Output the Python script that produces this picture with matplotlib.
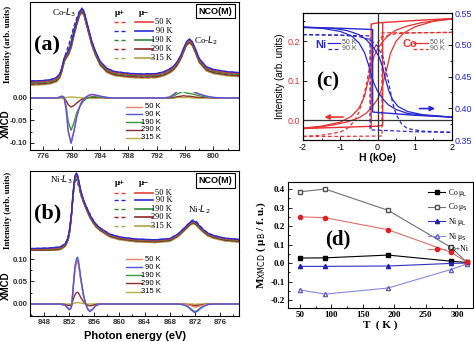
import numpy as np
import matplotlib
matplotlib.use('Agg')
import matplotlib.pyplot as plt
from matplotlib.ticker import MultipleLocator, FormatStrFormatter

plt.rcParams['axes.unicode_minus'] = False
plt.rcParams['font.family'] = 'DejaVu Sans'
SANS = 'Liberation Sans'
SERIF = 'Liberation Serif'

# ---------------- data ----------------
temps = ['50 K', '90 K', '190 K', '290 K', '315 K']
spec_colors = ['#e8403a', '#2a2ad0', '#2e8b3a', '#8b2a2a', '#b0a050']
xmcd_colors = ['#f08070', '#5555e0', '#3a9a3a', '#8b3030', '#b8b040']

# Co L-edge
E_co = [774.2, 776.0, 777.0, 777.8, 778.3, 778.6, 778.9, 779.2, 779.5, 779.9,
        780.3, 780.7, 781.1, 781.4, 781.7, 782.0, 782.4, 782.8, 783.3, 784.0,
        785.0, 786.0, 788.0, 790.0, 792.0, 793.0, 793.8, 794.4, 794.9, 795.4,
        795.8, 796.2, 796.6, 797.0, 797.5, 798.0, 799.0, 800.0, 802.0, 803.7]
co_int_90 = [0.122, 0.127, 0.137, 0.158, 0.200, 0.270, 0.370, 0.420, 0.450, 0.530,
             0.670, 0.790, 0.890, 0.925, 0.900, 0.810, 0.690, 0.570, 0.460, 0.340,
             0.260, 0.228, 0.207, 0.200, 0.205, 0.225, 0.255, 0.290, 0.340, 0.410,
             0.490, 0.560, 0.590, 0.560, 0.470, 0.370, 0.280, 0.250, 0.225, 0.215]
co_offsets = [-0.010, 0.0, -0.020, -0.035, -0.045]
co_xmcd_50 = [0, 0, 0, 0, 0.002, 0.004, 0.002, -0.024, -0.072, -0.098,
              -0.073, -0.040, -0.019, -0.008, -0.003, 0.002, 0.005, 0.007, 0.006, 0.004,
              0.001, 0, 0, 0, 0, 0, 0.002, 0.008, 0.014, 0.020,
              0.022, 0.017, 0.015, 0.015, 0.011, 0.008, 0.004, 0.001, 0, 0]
co_xmcd_90 = [0, 0, 0, 0, 0.002, 0.004, 0.002, -0.025, -0.075, -0.101,
              -0.075, -0.042, -0.020, -0.009, -0.003, 0.002, 0.006, 0.008, 0.007, 0.004,
              0.001, 0, 0, 0, 0, 0, 0.002, 0.008, 0.015, 0.021,
              0.023, 0.018, 0.016, 0.016, 0.012, 0.009, 0.004, 0.001, 0, 0]
co_xmcd_190 = [0, 0, 0, 0, 0.001, 0.003, 0.001, -0.018, -0.052, -0.072,
               -0.055, -0.032, -0.020, -0.012, -0.006, -0.002, 0.001, 0.003, 0.003, 0.002,
               0.001, 0, 0, 0, 0, 0, 0.001, 0.005, 0.009, 0.013,
               0.014, 0.011, 0.010, 0.009, 0.007, 0.005, 0.002, 0.001, 0, 0]
co_xmcd_290 = [0, 0, 0, 0, 0.001, 0.001, 0, -0.006, -0.015, -0.020,
               -0.017, -0.011, -0.006, -0.003, -0.001, 0, 0.001, 0.001, 0.001, 0.001,
               0, 0, 0, 0, 0, 0, 0, 0.001, 0.003, 0.004,
               0.005, 0.004, 0.004, 0.003, 0.002, 0.001, 0.001, 0, 0, 0]
co_xmcd_315 = [0, 0, 0, 0, 0, 0, 0, 0.001, 0.002, 0.002,
               0.002, 0.001, 0.001, 0, 0, 0, 0, 0, 0, 0,
               0, 0, 0, 0, 0, 0, 0, 0, 0.001, 0.001,
               0.001, 0.001, 0.001, 0, 0, 0, 0, 0, 0, 0]
co_xmcd = [co_xmcd_50, co_xmcd_90, co_xmcd_190, co_xmcd_290, co_xmcd_315]

# Ni L-edge
E_ni = [845.75, 848.91, 850.59, 851.39, 851.83, 852.06, 852.28, 852.45, 852.61, 852.79,
        852.95, 853.17, 853.35, 853.52, 853.85, 854.30, 854.65, 854.98, 855.32, 855.76,
        856.21, 856.89, 858.47, 860.04, 862.52, 865.67, 868.04, 869.27, 869.95, 870.62,
        871.19, 871.64, 871.97, 872.42, 872.88, 873.44, 874.12, 875.12, 876.81, 878.96, 881.0]
ni_int_90 = [0.030, 0.037, 0.050, 0.090, 0.160, 0.250, 0.390, 0.520, 0.700, 0.840,
             0.940, 0.975, 0.950, 0.890, 0.760, 0.640, 0.570, 0.510, 0.450, 0.390,
             0.340, 0.290, 0.210, 0.175, 0.150, 0.140, 0.156, 0.210, 0.260, 0.310,
             0.355, 0.375, 0.370, 0.340, 0.300, 0.260, 0.220, 0.190, 0.160, 0.145, 0.140]
ni_offsets = [-0.008, 0.0, -0.015, -0.025, -0.035]
ni_xmcd_50 = [0, 0, 0, -0.003, -0.009, -0.012, -0.009, -0.002, 0.027, 0.054,
              0.077, 0.090, 0.094, 0.086, 0.054, 0.018, 0.000, -0.011, -0.015, -0.011,
              -0.004, 0, 0, 0, 0, 0, 0, 0, 0, -0.001,
              -0.003, -0.005, -0.007, -0.006, -0.004, -0.002, 0, 0, 0, 0, 0]
ni_xmcd_90 = [0, 0, 0, -0.003, -0.010, -0.013, -0.010, -0.002, 0.030, 0.060,
              0.085, 0.100, 0.104, 0.095, 0.060, 0.020, 0.000, -0.012, -0.017, -0.012,
              -0.004, 0, 0, 0, 0, 0, 0, 0, -0.001, -0.004,
              -0.010, -0.016, -0.019, -0.016, -0.010, -0.005, -0.001, 0, 0, 0, 0]
ni_xmcd_190 = [0, 0, 0, -0.003, -0.009, -0.012, -0.009, -0.002, 0.028, 0.056,
               0.079, 0.093, 0.097, 0.088, 0.056, 0.019, 0.000, -0.011, -0.016, -0.011,
               -0.004, 0, 0, 0, 0, 0, 0, 0, -0.001, -0.004,
               -0.009, -0.014, -0.017, -0.014, -0.009, -0.004, -0.001, 0, 0, 0, 0]
ni_xmcd_290 = [0, 0, 0, -0.001, -0.003, -0.003, -0.003, 0, 0.008, 0.015,
               0.021, 0.025, 0.026, 0.024, 0.015, 0.005, 0, -0.003, -0.004, -0.003,
               -0.001, 0, 0, 0, 0, 0, 0, 0, 0, -0.001,
               -0.002, -0.003, -0.004, -0.003, -0.002, -0.001, 0, 0, 0, 0, 0]
ni_xmcd_315 = [0, 0, 0, 0, 0, 0, 0, 0, 0.001, 0.002,
               0.002, 0.003, 0.003, 0.003, 0.002, 0.001, 0, 0, 0, 0,
               0, 0, 0, 0, 0, 0, 0, 0, 0, 0,
               0, 0, -0.001, 0, 0, 0, 0, 0, 0, 0, 0]
ni_xmcd = [ni_xmcd_50, ni_xmcd_90, ni_xmcd_190, ni_xmcd_290, ni_xmcd_315]

# Hysteresis loops (c)
co50_sq_a_H = [2.0, 1.0, 0.0, -0.17, -0.17]
co50_sq_a_M = [0.257, 0.252, 0.246, 0.243, -0.020]
co50_sq_b_H = [-2.0, -1.0, 0.0, 0.14, 0.14]
co50_sq_b_M = [-0.021, -0.018, -0.015, -0.013, 0.246]
co50_s1_H = [-2, -1.5, -1.0, -0.7, -0.5, -0.35, -0.25, -0.18, -0.1, 0.0, 0.15, 0.3, 0.5, 0.8, 1.2, 1.6, 2.0]
co50_s1_M = [-0.020, -0.015, -0.005, 0.010, 0.030, 0.060, 0.100, 0.130, 0.160, 0.180, 0.200, 0.215, 0.228, 0.238, 0.247, 0.252, 0.256]
co50_s2_H = [-2, -1.6, -1.2, -0.8, -0.5, -0.3, -0.15, 0.0, 0.1, 0.18, 0.25, 0.35, 0.5, 0.7, 1.0, 1.5, 2.0]
co50_s2_M = [-0.021, -0.018, -0.012, -0.004, 0.006, 0.018, 0.033, 0.053, 0.076, 0.105, 0.130, 0.170, 0.200, 0.220, 0.236, 0.250, 0.256]
co90_sq_H = [-2.0, -1.0, 0.0, 0.12, 0.12, 1.0, 2.0]
co90_sq_M = [-0.041, -0.041, -0.040, -0.040, 0.221, 0.221, 0.222]
co90_s_H = [-2, -1.5, -1.0, -0.8, -0.6, -0.5, -0.4, -0.3, -0.2, -0.1, 0.1, 0.5, 1.0, 2.0]
co90_s_M = [-0.041, -0.038, -0.030, -0.020, 0.000, 0.020, 0.050, 0.090, 0.140, 0.180, 0.210, 0.219, 0.221, 0.222]

ni50_sq_H = [-2.0, -1.0, -0.13, -0.13, 1.0, 2.0]
ni50_sq_M = [0.527, 0.526, 0.524, 0.394, 0.389, 0.386]
ni50_s1_H = [-2, -1.5, -1.0, -0.7, -0.5, -0.35, -0.25, -0.18, -0.1, 0.0, 0.15, 0.3, 0.5, 0.8, 1.2, 2.0]
ni50_s1_M = [0.528, 0.526, 0.521, 0.514, 0.503, 0.488, 0.470, 0.455, 0.440, 0.427, 0.414, 0.405, 0.398, 0.392, 0.389, 0.386]
ni50_s2_H = [-2, -1.2, -0.8, -0.5, -0.3, -0.1, 0.05, 0.15, 0.22, 0.3, 0.4, 0.55, 0.8, 1.2, 2.0]
ni50_s2_M = [0.528, 0.526, 0.522, 0.516, 0.508, 0.495, 0.480, 0.462, 0.445, 0.428, 0.414, 0.403, 0.395, 0.390, 0.386]
ni90_sq_H = [-2.0, -1.0, -0.2, -0.2, 1.0, 2.0]
ni90_sq_M = [0.516, 0.515, 0.514, 0.366, 0.363, 0.362]
ni90_s_H = [-2, -1, -0.5, -0.2, 0.0, 0.15, 0.3, 0.4, 0.5, 0.65, 0.8, 1.2, 2.0]
ni90_s_M = [0.516, 0.515, 0.513, 0.508, 0.498, 0.480, 0.440, 0.410, 0.390, 0.375, 0.368, 0.364, 0.362]

# (d) moments vs T
T_vals = [50, 90, 190, 290, 315]
co_muL = [0.027, 0.028, 0.043, 0.010, 0.003]
co_muS = [0.385, 0.400, 0.285, 0.085, 0.005]
ni_muL = [-0.018, -0.018, -0.016, -0.002, 0.000]
ni_muS = [-0.145, -0.168, -0.135, -0.035, -0.005]
co_ni = [0.250, 0.245, 0.180, 0.058, 0.005]

# ---------------- figure ----------------
W, H = 474, 342
fig = plt.figure(figsize=(W / 100, H / 100), dpi=100)


def add_ax(x0, y0, x1, y1):
    return fig.add_axes([x0 / W, 1 - y1 / H, (x1 - x0) / W, (y1 - y0) / H])


def style_ticks(ax, size=6.5, family=SANS, weight='bold', color=None, pad=2):
    ax.tick_params(direction='in', which='both', labelsize=size, width=0.6, pad=pad)
    ax.tick_params(which='major', length=3)
    ax.tick_params(which='minor', length=1.6)
    for lab in ax.get_xticklabels() + ax.get_yticklabels():
        lab.set_family(family)
        lab.set_weight(weight)
        if color:
            lab.set_color(color)


def spectra_panel(y_top, y_split, y_bot, E, base, offs, xmcd, xlim, xmcd_ylim,
                  xmcd_ticks, panel_label, l3_text, l3_pos, l2_text, l2_pos,
                  leg_rows, head_y, xleg_rows, box_y):
    axt = add_ax(30, y_top, 239, y_split)
    axb = add_ax(30, y_split, 239, y_bot)
    E = np.array(E)
    base = np.array(base)
    for i in range(5):
        mu_minus = base + offs[i]
        mu_plus = mu_minus - 0.8 * np.array(xmcd[i])
        axt.plot(E, mu_plus, ls=(0, (3, 2)), color=spec_colors[i], lw=0.9)
    for i in [4, 3, 2, 0, 1]:
        axt.plot(E, base + offs[i], color=spec_colors[i], lw=1.0)
    for i in [4, 3, 2, 0, 1]:
        axb.plot(E, xmcd[i], color=xmcd_colors[i], lw=1.0)
    axt.set_xlim(*xlim)
    axb.set_xlim(*xlim)
    axt.set_ylim(0, 1)
    axb.set_ylim(*xmcd_ylim)
    axt.set_xticks([])
    axt.set_yticks([])
    axt.spines['bottom'].set_visible(False)
    axb.spines['top'].set_visible(False)
    for a in (axt, axb):
        for s in a.spines.values():
            s.set_linewidth(0.8)
    axb.xaxis.set_major_locator(MultipleLocator(4))
    axb.xaxis.set_minor_locator(MultipleLocator(2))
    axb.set_yticks(xmcd_ticks)
    axb.yaxis.set_minor_locator(MultipleLocator(0.025))
    axb.yaxis.set_major_formatter(FormatStrFormatter('%.2f'))
    style_ticks(axb, 5.6, SANS, 'bold', '#333333', pad=1.8)
    axt.text(0.02, panel_label[1], panel_label[0], transform=axt.transAxes,
             fontsize=16, fontweight='bold', family=SERIF, va='center')
    axt.text(l3_pos[0], l3_pos[1], l3_text, transform=axt.transAxes,
             fontsize=6.5, family=SERIF, ha='center', va='center')
    axt.text(l2_pos[0], l2_pos[1], l2_text, transform=axt.transAxes,
             fontsize=6.5, family=SERIF, ha='center', va='center')
    axt.text(0.888, box_y, 'NCO(M)', transform=axt.transAxes,
             fontsize=6.5, fontweight='bold', family=SANS, ha='center', va='center',
             bbox=dict(boxstyle='square,pad=0.3', fc='white', ec='black', lw=0.8))
    axt.text(0.43, head_y, 'μ+', transform=axt.transAxes, fontsize=6.5,
             fontweight='bold', family=SERIF, ha='center', va='center')
    axt.text(0.545, head_y, 'μ−', transform=axt.transAxes, fontsize=6.5,
             fontweight='bold', family=SERIF, ha='center', va='center')
    for i, yy in enumerate(leg_rows):
        axt.plot([0.40, 0.46], [yy, yy], transform=axt.transAxes, ls=(0, (3, 2)),
                 color=spec_colors[i], lw=1.0)
        axt.plot([0.50, 0.59], [yy, yy], transform=axt.transAxes,
                 color=spec_colors[i], lw=1.2)
        axt.text(0.68, yy, temps[i], transform=axt.transAxes, fontsize=6,
                 family=SERIF, ha='right', va='center')
    for i, yy in enumerate(xleg_rows):
        axb.plot([0.46, 0.535], [yy, yy], transform=axb.transAxes,
                 color=xmcd_colors[i], lw=1.0)
        axb.text(0.625, yy, temps[i], transform=axb.transAxes, fontsize=5.5,
                 family=SANS, ha='right', va='center')
    return axt, axb


# (a)
spectra_panel(2, 92, 150, E_co, co_int_90, co_offsets, co_xmcd, (774.1, 803.6),
              (-0.1156, 0.0133), [-0.10, -0.05, 0.00], ('(a)', 0.52),
              'Co-$L_3$', (0.165, 0.88), 'Co-$L_2$', (0.84, 0.57),
              [0.778, 0.683, 0.578, 0.478, 0.378], 0.878,
              [0.747, 0.615, 0.477, 0.345, 0.212], 0.9)
# (b)
spectra_panel(171, 251, 316, E_ni, ni_int_90, ni_offsets, ni_xmcd, (845.8, 879.0),
              (-0.0267, 0.1178), [0.00, 0.05, 0.10], ('(b)', 0.475),
              'Ni-$L_3$', (0.15, 0.89), 'Ni-$L_2$', (0.81, 0.51),
              [0.729, 0.634, 0.529, 0.421, 0.316], 0.854,
              [0.872, 0.749, 0.626, 0.503, 0.374], 0.88)

fig.text(8 / W, 1 - 44 / H, 'Intensity (arb. units)', rotation=90, ha='center', va='center',
         fontsize=6.3, fontweight='bold', family=SERIF)
fig.text(8 / W, 1 - 210 / H, 'Intensity (arb. units)', rotation=90, ha='center', va='center',
         fontsize=6.3, fontweight='bold', family=SERIF)
fig.text(6 / W, 1 - 124 / H, 'XMCD', rotation=90, ha='center', va='center',
         fontsize=7, fontweight='bold', family=SANS)
fig.text(6 / W, 1 - 286 / H, 'XMCD', rotation=90, ha='center', va='center',
         fontsize=7, fontweight='bold', family=SANS)
fig.text(135 / W, 1 - 336 / H, 'Photon energy (eV)', ha='center', va='center',
         fontsize=8, fontweight='bold', family=SANS)

# (c)
RED = '#e83030'
BLUE = '#2828d0'
axc = add_ax(303, 13, 452, 140)
axc2 = axc.twinx()
axc.plot(co50_sq_a_H, co50_sq_a_M, color=RED, lw=1.0)
axc.plot(co50_sq_b_H, co50_sq_b_M, color=RED, lw=1.0)
axc.plot(co50_s1_H, co50_s1_M, color=RED, lw=0.9)
axc.plot(co50_s2_H, co50_s2_M, color=RED, lw=0.9)
axc.plot(co90_sq_H, co90_sq_M, color=RED, lw=0.9, ls=(0, (3, 2)))
axc.plot(co90_s_H, co90_s_M, color=RED, lw=0.9, ls=(0, (3, 2)))
axc2.plot(ni50_sq_H, ni50_sq_M, color=BLUE, lw=1.0)
axc2.plot(ni50_s1_H, ni50_s1_M, color=BLUE, lw=0.9)
axc2.plot(ni50_s2_H, ni50_s2_M, color=BLUE, lw=0.9)
axc2.plot(ni90_sq_H, ni90_sq_M, color=BLUE, lw=0.9, ls=(0, (3, 2)))
axc2.plot(ni90_s_H, ni90_s_M, color=BLUE, lw=0.9, ls=(0, (3, 2)))
axc.axhline(0, color='#333333', lw=0.9)
axc.axvline(0, color='#333333', lw=0.9)
axc.set_xlim(-2, 2)
axc.set_ylim(-0.05, 0.271)
axc2.set_ylim(0.35, 0.55)
axc.xaxis.set_major_locator(MultipleLocator(1))
axc.xaxis.set_minor_locator(MultipleLocator(0.5))
axc.yaxis.set_major_locator(MultipleLocator(0.1))
axc.yaxis.set_minor_locator(MultipleLocator(0.05))
axc.yaxis.set_major_formatter(FormatStrFormatter('%.1f'))
axc2.yaxis.set_major_locator(MultipleLocator(0.05))
axc2.yaxis.set_minor_locator(MultipleLocator(0.025))
axc2.yaxis.set_major_formatter(FormatStrFormatter('%.2f'))
style_ticks(axc, 6.5, SANS, 'normal')
style_ticks(axc2, 6.5, SANS, 'normal')
axc.tick_params(axis='y', labelcolor=RED)
axc2.tick_params(axis='y', labelcolor=BLUE)
for s in axc.spines.values():
    s.set_linewidth(0.8)
axc.set_xlabel('H (kOe)', fontsize=7.5, fontweight='bold', family=SANS, labelpad=1)
axc.set_ylabel('Intensity (arb. units)', fontsize=7, family=SANS, labelpad=2)
axc.annotate('', xy=(-1.5, 0.008), xytext=(-0.85, 0.008),
             arrowprops=dict(arrowstyle='-|>', color=RED, lw=1.2, mutation_scale=7))
axc2.annotate('', xy=(1.62, 0.3995), xytext=(1.05, 0.3995),
              arrowprops=dict(arrowstyle='-|>', color=BLUE, lw=1.2, mutation_scale=7))
axc.text(0.08, 0.748, 'Ni', transform=axc.transAxes, color=BLUE, fontsize=8,
         fontweight='bold', family=SANS, va='center')
axc.plot([0.165, 0.25], [0.766, 0.766], transform=axc.transAxes, color=BLUE, lw=0.9)
axc.plot([0.165, 0.25], [0.717, 0.717], transform=axc.transAxes, color=BLUE, lw=0.9, ls=(0, (3, 2)))
axc.text(0.26, 0.766, '50 K', transform=axc.transAxes, fontsize=5, family=SANS, va='center', color='#555555')
axc.text(0.26, 0.717, '90 K', transform=axc.transAxes, fontsize=5, family=SANS, va='center', color='#555555')
axc.text(0.665, 0.755, 'Co', transform=axc.transAxes, color=RED, fontsize=8,
         fontweight='bold', family=SANS, va='center')
axc.plot([0.74, 0.84], [0.766, 0.766], transform=axc.transAxes, color=RED, lw=0.9)
axc.plot([0.74, 0.84], [0.717, 0.717], transform=axc.transAxes, color=RED, lw=0.9, ls=(0, (3, 2)))
axc.text(0.85, 0.766, '50 K', transform=axc.transAxes, fontsize=5, family=SANS, va='center', color='#555555')
axc.text(0.85, 0.717, '90 K', transform=axc.transAxes, fontsize=5, family=SANS, va='center', color='#555555')
axc.text(0.09, 0.46, '(c)', transform=axc.transAxes, fontsize=15, fontweight='bold',
         family=SERIF, va='center')

# (d)
axd = add_ax(288, 182, 473, 308)
axd.plot(T_vals, co_muL, color='black', lw=0.8, marker='s', ms=3, mfc='black', mec='black', label='Co μ$_{\\rm L}$')
axd.plot(T_vals, co_muS, color='#707070', lw=0.8, marker='s', ms=3, mfc='white', mec='#505050', label='Co μ$_{\\rm S}$')
axd.plot(T_vals, ni_muL, color='#3030c0', lw=0.8, marker='^', ms=3, mfc='#2020b0', mec='#2020b0', label='Ni μ$_{\\rm L}$')
axd.plot(T_vals, ni_muS, color='#8888dd', lw=0.8, marker='^', ms=3, mfc='white', mec='#6060c0', label='Ni μ$_{\\rm S}$')
axd.plot(T_vals, co_ni, color='#e07070', lw=0.8, marker='o', ms=3, mfc='#e02020', mec='#e02020', label='Co+Ni')
axd.set_xlim(31, 325)
axd.set_ylim(-0.243, 0.438)
axd.xaxis.set_major_locator(MultipleLocator(50))
axd.xaxis.set_minor_locator(MultipleLocator(25))
axd.yaxis.set_major_locator(MultipleLocator(0.1))
axd.yaxis.set_minor_locator(MultipleLocator(0.05))
axd.yaxis.set_major_formatter(FormatStrFormatter('%.1f'))
style_ticks(axd, 6.5, SERIF, 'bold')
for s in axd.spines.values():
    s.set_linewidth(0.8)
axd.set_xlabel('T  ( K )', fontsize=8, fontweight='bold', family=SERIF, labelpad=1)
axd.set_ylabel('M$_{\\rm XMCD}$ ( μ$_{\\rm B}$ / f. u.)', fontsize=8, fontweight='bold',
               family=SERIF, labelpad=2)
axd.legend(loc='upper right', frameon=False, handlelength=2.2,
           labelspacing=0.35, borderaxespad=0.2, handletextpad=0.3,
           prop={'family': SERIF, 'size': 5.5})
axd.text(0.2, 0.54, '(d)', transform=axd.transAxes, fontsize=15, fontweight='bold',
         family=SERIF, va='center')

fig.savefig('out.png', dpi=100)
